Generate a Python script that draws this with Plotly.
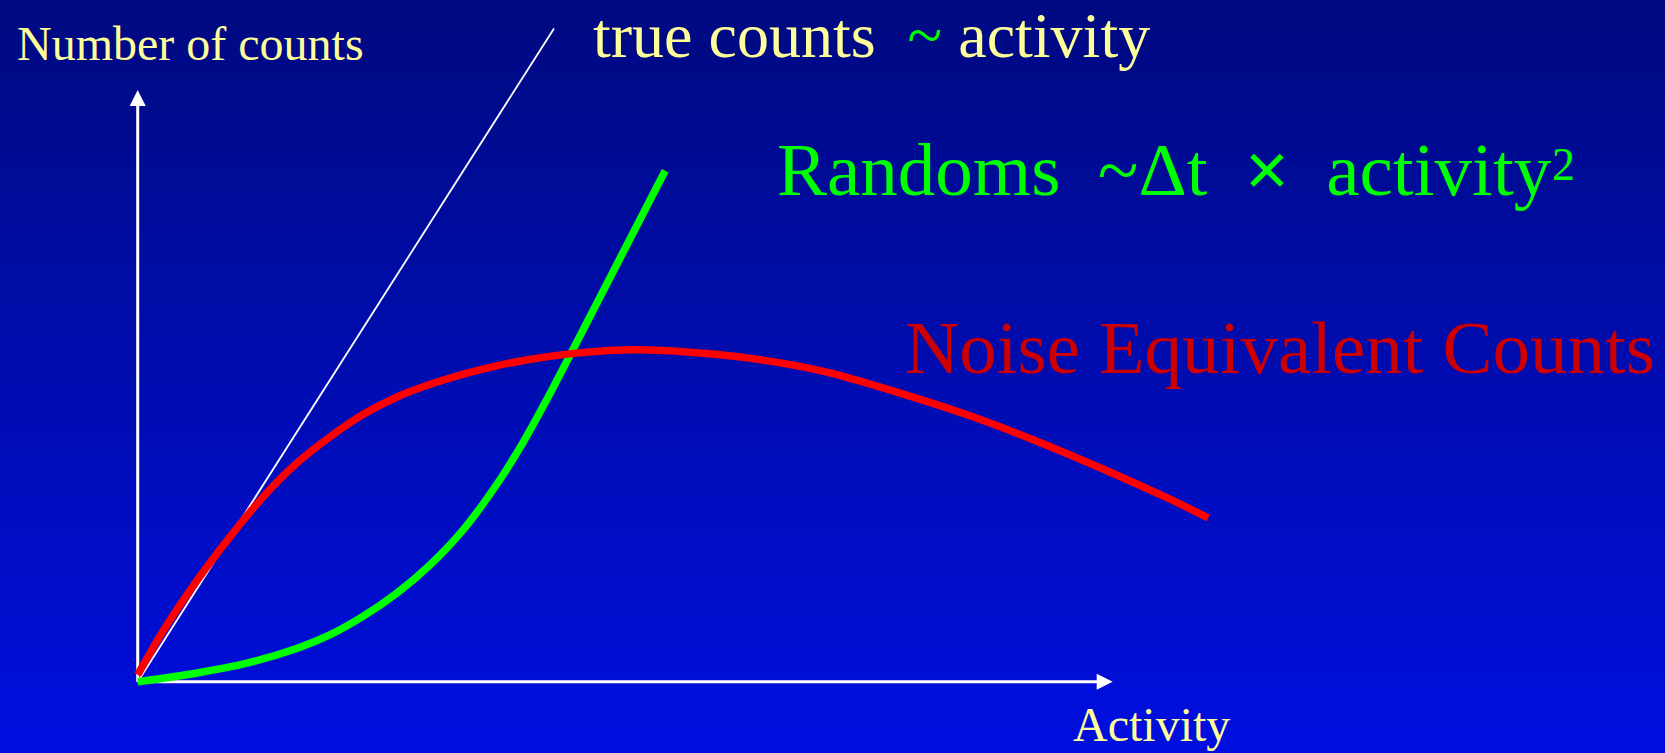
import plotly.graph_objects as go

# ---- data (activity in arbitrary units, counts in arbitrary units) ----
true_activity = [0.0, 4.27]
true_counts = [0.0, 6.70]

randoms_activity = [0.0, 0.61, 1.12, 1.63, 1.97, 2.31, 2.66, 3.00, 3.34, 3.68,
                    3.95, 4.21, 4.45, 4.93, 5.41]
randoms_counts = [0.0, 0.09, 0.19, 0.34, 0.48, 0.67, 0.91, 1.20, 1.56, 2.02,
                  2.45, 2.92, 3.38, 4.31, 5.24]

nec_activity = [0.0, 0.26, 0.61, 0.95, 1.29, 1.63, 1.97, 2.31, 2.66, 3.00,
                3.34, 3.68, 4.02, 4.45, 4.80, 5.15, 5.90, 6.59, 7.13, 7.82,
                8.50, 9.19, 9.87, 10.55, 10.98]
nec_counts = [0.07, 0.52, 1.04, 1.49, 1.90, 2.24, 2.51, 2.74, 2.92, 3.05,
              3.155, 3.24, 3.305, 3.365, 3.395, 3.405, 3.36, 3.27, 3.16, 2.96,
              2.74, 2.48, 2.195, 1.89, 1.68]

x_axis_end = 10.0
y_axis_end = 6.07

# ---- page geometry ----
W, H = 1665, 753
ORIGIN_PX = (137.7, 681.7)
PX_PER_UNIT = 97.5
x_range = [-ORIGIN_PX[0] / PX_PER_UNIT, (W - ORIGIN_PX[0]) / PX_PER_UNIT]
y_range = [-(H - ORIGIN_PX[1]) / PX_PER_UNIT, ORIGIN_PX[1] / PX_PER_UNIT]

TOP_COLOR = "rgb(0,10,128)"
BOTTOM_COLOR = "rgb(0,15,224)"
YELLOW = "#ffff99"
GREEN = "#00ff00"
RED = "#ff0000"
DARK_RED = "#cc0000"
SERIF = "Liberation Serif, Times New Roman, serif"

HEAD = 16                              # arrow head size (px)
head_len = HEAD / PX_PER_UNIT

fig = go.Figure()

# vertical background gradient
fig.add_trace(go.Heatmap(
    x=x_range, y=y_range, z=[[0, 0], [1, 1]],
    colorscale=[[0, BOTTOM_COLOR], [1, TOP_COLOR]],
    zsmooth="best", showscale=False, hoverinfo="skip",
))

# axes with triangular heads (arrow symbols have their tip at the marker position)
fig.add_trace(go.Scatter(x=[0, x_axis_end - head_len * 0.8], y=[0, 0], mode="lines",
                         line=dict(color="white", width=3), hoverinfo="skip"))
fig.add_trace(go.Scatter(x=[0, 0], y=[0, y_axis_end - head_len * 0.8], mode="lines",
                         line=dict(color="white", width=3), hoverinfo="skip"))
fig.add_trace(go.Scatter(
    x=[x_axis_end, 0], y=[0, y_axis_end], mode="markers",
    marker=dict(symbol=["arrow-right", "arrow-up"], size=HEAD,
                color="white", line=dict(width=0)),
    hoverinfo="skip"))

# curves
fig.add_trace(go.Scatter(x=true_activity, y=true_counts, mode="lines",
                         line=dict(color="white", width=1.8), hoverinfo="skip"))
fig.add_trace(go.Scatter(x=randoms_activity, y=randoms_counts, mode="lines",
                         line=dict(color=GREEN, width=7.5, shape="spline", smoothing=0.8),
                         hoverinfo="skip"))
fig.add_trace(go.Scatter(x=nec_activity, y=nec_counts, mode="lines",
                         line=dict(color=RED, width=7.5, shape="spline", smoothing=0.8),
                         hoverinfo="skip"))


def label(text, px_left, px_baseline, size, color, family=SERIF):
    # place a left-aligned text so its baseline lands on px_baseline
    centre = px_baseline - 0.3375 * size
    fig.add_annotation(x=px_left / W, y=1 - centre / H, xref="paper", yref="paper",
                       text=text, showarrow=False, xanchor="left", yanchor="middle",
                       font=dict(family=family, size=size, color=color))


NB = "\u00a0"
label("Number of counts", 14.5, 59.5, 48, YELLOW)
label(f"true counts{NB}{NB}<span style='color:{GREEN}'>~</span>{NB}activity",
      591, 57, 64, YELLOW)
label(f"Randoms{NB}{NB}~\u0394t{NB}{NB}<span style='font-family:Liberation Sans, Arial'>\u00d7</span>"
      f"{NB}{NB}activity", 775, 194, 75, GREEN)
label("2", 1550, 180, 46, GREEN)
label("Noise Equivalent Counts", 902.5, 372.7, 75, DARK_RED)
label("Activity", 1071, 741, 48, YELLOW)

fig.update_layout(
    width=W, height=H, margin=dict(l=0, r=0, t=0, b=0),
    showlegend=False, paper_bgcolor=TOP_COLOR, plot_bgcolor=TOP_COLOR,
    xaxis=dict(range=x_range, visible=False, fixedrange=True),
    yaxis=dict(range=y_range, visible=False, fixedrange=True),
)

fig.write_html("out.html", config={"displayModeBar": False})
